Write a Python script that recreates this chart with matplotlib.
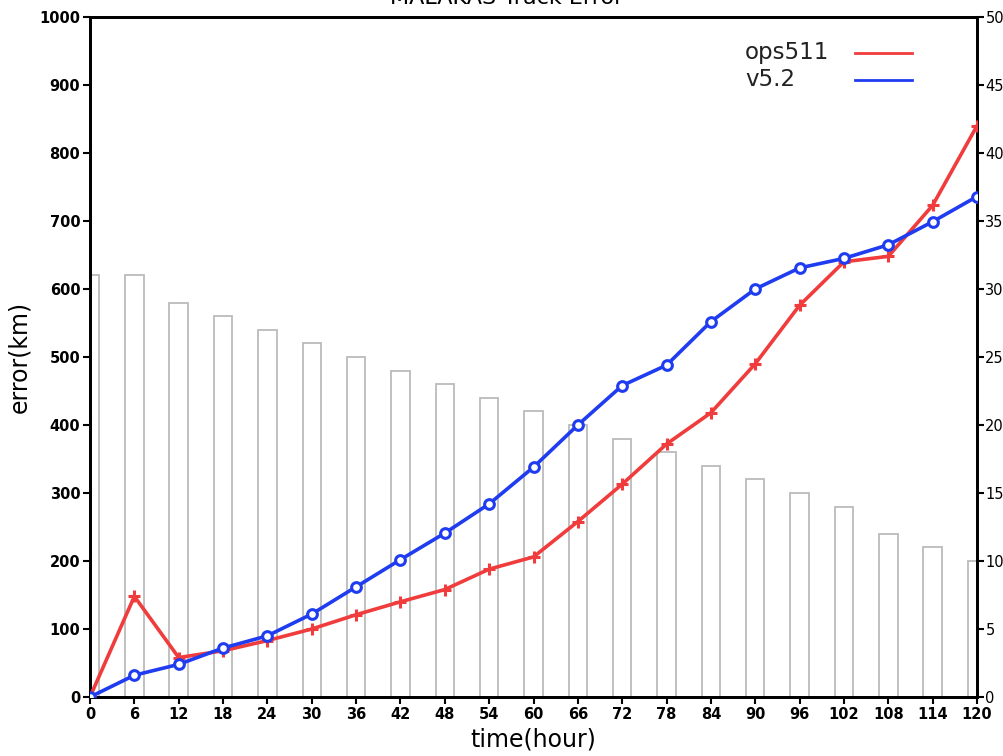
import matplotlib
matplotlib.use("Agg")
import matplotlib.pyplot as plt

hours = [0, 6, 12, 18, 24, 30, 36, 42, 48, 54, 60, 66, 72, 78, 84, 90, 96, 102, 108, 114, 120]
ops511 = [0, 148, 58, 68, 83, 100, 121, 140, 158, 188, 206, 258, 313, 372, 418, 490, 576, 640, 648, 723, 840]
v52 = [0, 32, 48, 72, 90, 122, 162, 202, 241, 284, 338, 400, 458, 488, 552, 600, 631, 645, 665, 699, 736]
counts = [31, 31, 29, 28, 27, 26, 25, 24, 23, 22, 21, 20, 19, 18, 17, 16, 15, 14, 12, 11, 10]
series_names = ['ops511', 'v5.2']
series_colors = ['#f03c3c', '#1f3cf0']

fig = plt.figure(figsize=(10.04, 7.56), dpi=100)
ax = fig.add_axes([90/1004, 59/756, 887/1004, 680/756])
ax2 = ax.twinx()

ax2.bar(hours, counts, width=2.5, facecolor='white', edgecolor='#bbbbbb', linewidth=1.3, zorder=1)
ax2.set_ylim(0, 50)
ax2.set_yticks(range(0, 51, 5))
ax2.tick_params(axis='y', direction='out', length=5, width=1.5, labelsize=10.5, pad=1)

ax.set_zorder(ax2.get_zorder() + 1)
ax.patch.set_visible(False)

ax.plot(hours, ops511, color=series_colors[0], lw=2.6, marker='+', ms=9, mew=2.2, zorder=3)
ax.plot(hours, v52, color=series_colors[1], lw=2.6, marker='o', ms=7, mew=2.2, mfc='white', zorder=4)

ax.set_xlim(0, 120)
ax.set_ylim(0, 1000)
ax.set_xticks(hours)
ax.set_yticks(range(0, 1001, 100))
ax.tick_params(axis='both', direction='out', length=5, width=1.5, labelsize=10.5, pad=2)
for lab in ax.get_xticklabels() + ax.get_yticklabels():
    lab.set_fontweight('bold')
for sp in ax.spines.values():
    sp.set_linewidth(2)
for sp in ax2.spines.values():
    sp.set_linewidth(2)

ax.set_xlabel('time(hour)', fontsize=17, labelpad=4)
ax.set_ylabel('error(km)', fontsize=17, labelpad=6)

# manual legend: left-aligned labels, line samples to the right
leg_x_text = (745 - 90) / 887
leg_x0 = (855 - 90) / 887
leg_x1 = (912 - 90) / 887
leg_ys = [(697 - 52) / 680, (697 - 79) / 680]
for name, col, yy in zip(series_names, series_colors, leg_ys):
    ax.text(leg_x_text, yy, name, transform=ax.transAxes, fontsize=16.5, ha='left', va='center', color='#222222')
    ax.plot([leg_x0, leg_x1], [yy - 0.002, yy - 0.002], transform=ax.transAxes, color=col, lw=2, clip_on=False)

fig.text(0.505, 1.003, 'MALAKAS Track Error', ha='center', va='center', fontsize=16)

fig.savefig('out.png', dpi=100)
